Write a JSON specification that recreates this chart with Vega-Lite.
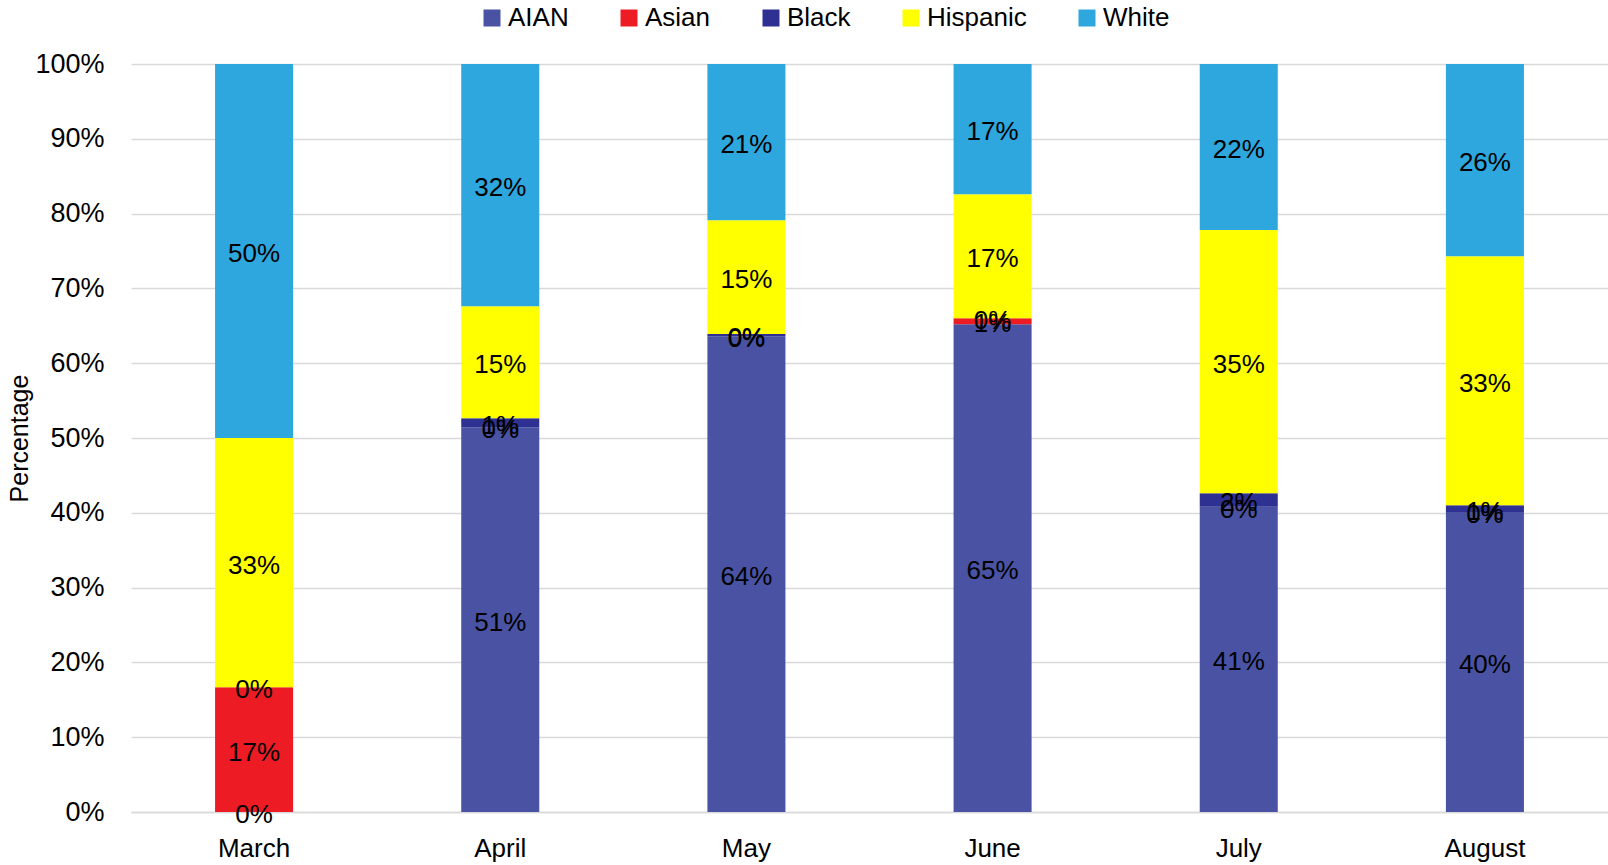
{
  "$schema": "https://vega.github.io/schema/vega-lite/v6.json",
  "width": 1477,
  "height": 748,
  "autosize": {"type": "none"},
  "padding": {"left": 131, "top": 64, "right": 0, "bottom": 53},
  "background": "white",
  "config": {
    "view": {"stroke": null},
    "font": "Liberation Sans"
  },
  "data": {
    "values": [
      {"month": "March", "group": "AIAN", "order": 1, "value": 0},
      {"month": "March", "group": "Asian", "order": 2, "value": 0.1667},
      {"month": "March", "group": "Black", "order": 3, "value": 0},
      {"month": "March", "group": "Hispanic", "order": 4, "value": 0.3333},
      {"month": "March", "group": "White", "order": 5, "value": 0.5},
      {"month": "April", "group": "AIAN", "order": 1, "value": 0.5145},
      {"month": "April", "group": "Asian", "order": 2, "value": 0},
      {"month": "April", "group": "Black", "order": 3, "value": 0.012},
      {"month": "April", "group": "Hispanic", "order": 4, "value": 0.1495},
      {"month": "April", "group": "White", "order": 5, "value": 0.324},
      {"month": "May", "group": "AIAN", "order": 1, "value": 0.636},
      {"month": "May", "group": "Asian", "order": 2, "value": 0},
      {"month": "May", "group": "Black", "order": 3, "value": 0.003},
      {"month": "May", "group": "Hispanic", "order": 4, "value": 0.152},
      {"month": "May", "group": "White", "order": 5, "value": 0.209},
      {"month": "June", "group": "AIAN", "order": 1, "value": 0.652},
      {"month": "June", "group": "Asian", "order": 2, "value": 0.008},
      {"month": "June", "group": "Black", "order": 3, "value": 0},
      {"month": "June", "group": "Hispanic", "order": 4, "value": 0.166},
      {"month": "June", "group": "White", "order": 5, "value": 0.174},
      {"month": "July", "group": "AIAN", "order": 1, "value": 0.408},
      {"month": "July", "group": "Asian", "order": 2, "value": 0},
      {"month": "July", "group": "Black", "order": 3, "value": 0.018},
      {"month": "July", "group": "Hispanic", "order": 4, "value": 0.352},
      {"month": "July", "group": "White", "order": 5, "value": 0.222},
      {"month": "August", "group": "AIAN", "order": 1, "value": 0.401},
      {"month": "August", "group": "Asian", "order": 2, "value": 0},
      {"month": "August", "group": "Black", "order": 3, "value": 0.009},
      {"month": "August", "group": "Hispanic", "order": 4, "value": 0.333},
      {"month": "August", "group": "White", "order": 5, "value": 0.257}
    ]
  },
  "transform": [
    {"stack": "value", "groupby": ["month"], "sort": [{"field": "order", "order": "ascending"}], "as": ["v0", "v1"]},
    {"calculate": "(datum.v0 + datum.v1) / 2", "as": "mid"}
  ],
  "encoding": {
    "x": {
      "field": "month",
      "type": "nominal",
      "sort": ["March", "April", "May", "June", "July", "August"],
      "scale": {"paddingInner": 0.683, "paddingOuter": 0.3415},
      "axis": {
        "title": null,
        "labelAngle": 0,
        "labelFont": "Liberation Sans",
        "labelFontSize": 26,
        "labelColor": "black",
        "labelPadding": 23,
        "ticks": false,
        "domainColor": "#D9D9D9",
        "domainWidth": 1.5
      }
    }
  },
  "layer": [
    {
      "mark": {"type": "bar"},
      "encoding": {
        "y": {
          "field": "v0",
          "type": "quantitative",
          "scale": {"domain": [0, 1], "nice": false},
          "axis": {
            "title": "Percentage",
            "titleFont": "Liberation Sans",
            "titleFontSize": 25,
            "titleFontWeight": "normal",
            "titleColor": "black",
            "titlePadding": 2,
            "values": [0, 0.1, 0.2, 0.3, 0.4, 0.5, 0.6, 0.7, 0.8, 0.9, 1],
            "format": ".0%",
            "labelFont": "Liberation Sans",
            "labelFontSize": 27,
            "labelColor": "black",
            "labelPadding": 27,
            "ticks": false,
            "domain": false,
            "grid": true,
            "gridColor": "#D9D9D9",
            "gridWidth": 1.5
          }
        },
        "y2": {"field": "v1"},
        "color": {
          "field": "group",
          "type": "nominal",
          "sort": ["AIAN", "Asian", "Black", "Hispanic", "White"],
          "scale": {
            "domain": ["AIAN", "Asian", "Black", "Hispanic", "White"],
            "range": ["#4A53A3", "#ED1C24", "#2E3192", "#FFFF00", "#2EA7DF"]
          },
          "legend": {
            "title": null,
            "orient": "none",
            "legendX": 348,
            "legendY": -59,
            "direction": "horizontal",
            "symbolType": "square",
            "symbolSize": 289,
            "symbolStrokeWidth": 0,
            "symbolOpacity": 1,
            "labelFont": "Liberation Sans",
            "labelFontSize": 26,
            "labelColor": "black",
            "labelOffset": 3,
            "columnPadding": 47
          }
        }
      }
    },
    {
      "mark": {"type": "text", "font": "Liberation Sans", "fontSize": 26, "color": "black", "dy": 3},
      "encoding": {
        "y": {"field": "mid", "type": "quantitative"},
        "text": {"field": "value", "type": "quantitative", "format": ".0%"}
      }
    }
  ]
}
